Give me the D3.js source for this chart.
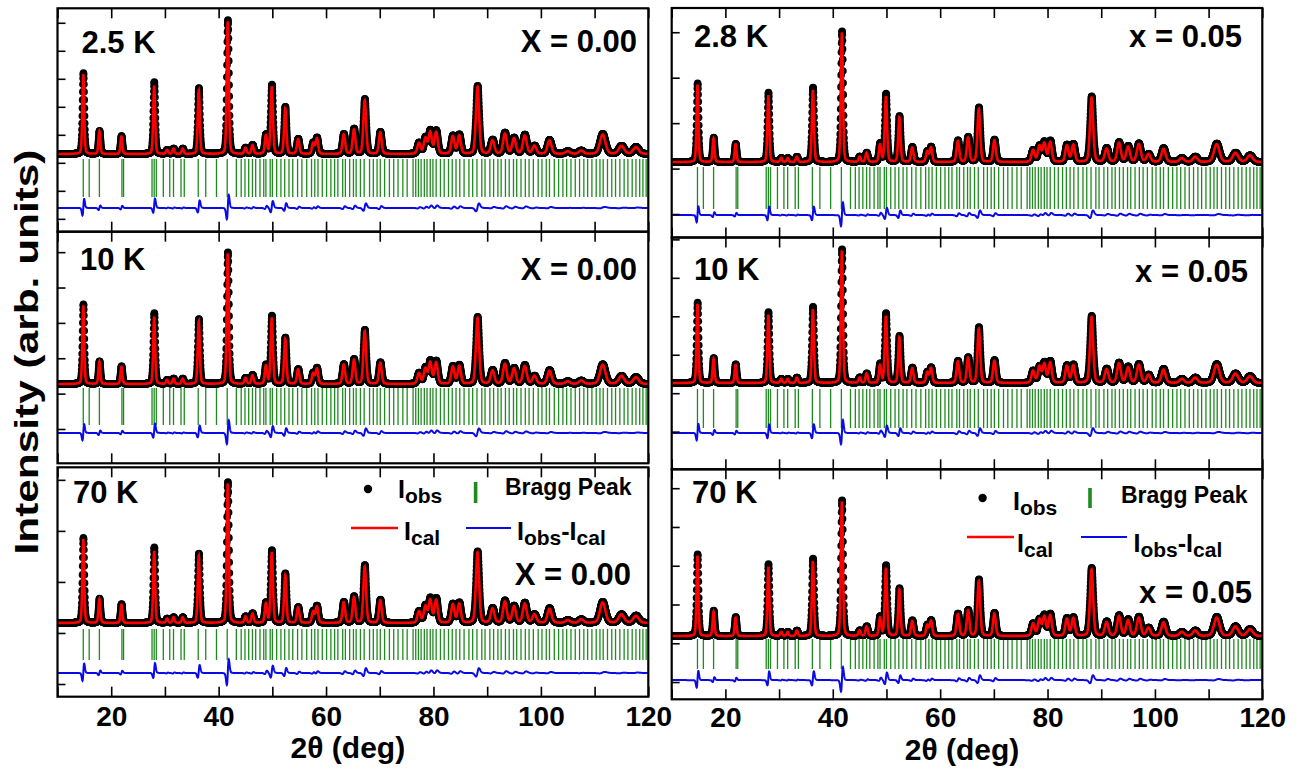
<!DOCTYPE html>
<html><head><meta charset="utf-8">
<script src="https://cdn.jsdelivr.net/npm/d3@7"></script>
<style>
body{margin:0;background:#fff}
svg{display:block}
text{font-family:"Liberation Sans",Arial,Helvetica,sans-serif;font-weight:bold;fill:#000}
</style>
</head><body>
<svg id="chart" width="1306" height="774"></svg>
<script>
// ---------------- DATA ----------------
const xTickValues = [10,20,30,40,50,60,70,80,90,100,110,120];
const xTickLabels = [20,40,60,80,100,120];

// reflection positions (2theta, deg) of the fitted peaks
const peakPos  = [14.8,17.8,21.9,28.0,30.4,31.6,33.3,36.3,41.7,45.0,46.3,48.8,49.9,52.4,54.8,57.6,58.3,63.3,65.2,67.2,70.1,77.3,78.5,79.4,80.5,83.6,84.8,88.2,91.0,93.3,95.0,97.0,98.8,101.6,105.0,107.5,111.5,115.0,117.7];
const peakFwhm = [0.40,0.42,0.42,0.42,0.45,0.45,0.45,0.45,0.45,0.50,0.50,0.50,0.50,0.50,0.55,0.55,0.55,0.60,0.60,0.60,0.60,0.70,0.70,0.70,0.70,0.70,0.70,0.70,0.80,0.80,0.80,0.85,0.85,0.90,1.00,1.00,1.20,1.20,1.20];

// relative intensities (strongest = 100), X = 0.00
const obsX000 = [60.4,17.2,13.4,53.7,3,4,4,49.3,100,4.5,6.7,14.2,51.5,35.1,11.2,8.2,12,14.9,18.7,41,16.4,8.2,12,17.2,17.2,13.4,14.2,50.7,10.4,15.7,11.9,14.2,6,10.4,2,2.5,14.9,6,5.2];
const calX000 = [59.5,17,13,51,3,4,4,47.5,99,4.5,6.5,13.5,50,34,11,8,11.5,14.5,18,40,16,8,11.5,16,16,13,13.5,50,10,15,11.5,13.5,6,10,2,2.5,14.5,6,5];
// relative intensities, x = 0.05
const obsX005 = [60,18.6,14,53,3,3,4,57,100,4,7,14,52,35,11.4,8,11.4,16.4,19,41.6,17,9,12,15,16,13,13.5,50,10.5,15,12,14,6,10.5,3,4,14,7,5];
const calX005 = [59,18,13.5,51,3,3,4,55,99,4,7,13,50,34,11,8,11,16,18.5,40.5,16.5,9,12,14,15,12.5,13,49,10,14.5,11.5,13.5,6,10,3,4,13.5,7,5];
const obsShift = [0.03, 0.03];   // small offset of observed peaks vs. calculated (deg)

// Bragg reflection positions (deg)
const braggPos = [14.8,15.9,17.8,22.0,22.3,27.6,28.0,28.4,29.7,30.9,31.6,33.0,33.6,36.2,37.6,39.6,41.6,43.3,44.2,44.9,45.6,46.3,46.9,47.7,48.4,48.8,49.6,50.0,50.8,51.6,52.3,53.1,53.8,54.7,55.5,56.4,57.3,57.9,58.5,59.3,60.1,60.9,61.6,62.2,63.1,63.6,64.4,65.1,65.6,66.4,67.1,68.1,68.8,69.5,70.1,70.9,71.8,72.6,73.4,74.3,75.1,76.2,76.7,77.2,77.7,78.3,78.8,79.4,79.9,80.5,81.3,82.0,82.8,83.5,84.2,84.9,85.7,86.6,87.3,88.1,89.0,89.6,90.5,91.2,92.0,92.6,93.4,94.1,94.9,95.5,96.3,97.1,97.8,98.6,99.5,100.2,101.0,101.6,102.5,103.3,104.1,104.8,105.6,106.4,107.2,108.0,108.7,109.5,110.3,111.0,111.6,112.4,113.2,113.9,114.7,115.5,116.2,117.0,117.7,118.4,119.0,119.6];

const tempLabels = ["2.5 K","10 K","70 K","2.8 K","10 K","70 K"];
const compLabels = ["X = 0.00","X = 0.00","X = 0.00","x = 0.05","x = 0.05","x = 0.05"];

// per-panel intensity ranges (data units) : domain, difference offset, Bragg tick span, y ticks
const yDomains   = [[-58.0,108.7],[-60.1,115.4],[-52.3,110.4],[-57.6,117.6],[-64.4,108.6],[-46.5,122.6]];
const diffOffset = [-40.3,-37.1,-35.5,-40.5,-37.3,-32.4];
const braggSpan  = [[-3.7,-32.1],[-3.0,-31.1],[-4.3,-26.2],[-3.8,-35.9],[-4.5,-33.6],[-2.2,-24.3]];
const yTickVals  = [
  [-48.4,-27.5,-6.6,14.3,35.2,56.1,77.0,97.9],
  [-34.1,-7.3,19.5,46.3,73.1,99.9],
  [-43.3,-7.1,29.1,65.3,101.5],
  [-39.7,-5.0,29.7,64.4,99.1],
  [-36.3,-7.6,21.1,49.8,78.5,107.2],
  [-33.8,-5.3,23.2,51.7,80.2,108.7]
];

// ---------------- LAYOUT ----------------
const cols = [{x0:57.5, x1:648.3}, {x0:671.7, x1:1262.3}];
const panelBoxes = [
  {col:0, top:8.3,   bottom:231.7},
  {col:0, top:231.7, bottom:463.3},
  {col:0, top:467.3, bottom:696.7},
  {col:1, top:8,     bottom:237.5},
  {col:1, top:237.5, bottom:469.3},
  {col:1, top:469.3, bottom:699.3}
];
const labelPos = [
  {t:[81.5,53], c:[637,52]},
  {t:[80,270],  c:[637,280]},
  {t:[73,503],  c:[631,585]},
  {t:[694,47],  c:[1242,47]},
  {t:[694,280], c:[1248,282]},
  {t:[692,503], c:[1252,603]}
];
const legendPos = [
  {dot:[368,489], iobs:[398,498], bar:[475.6,482,503], bragg:[505,495], cal:[351,398,528], ical:[404,540], dif:[466,511,528], idif:[517,540]},
  {dot:[982.6,498], iobs:[1013,510], bar:[1090,488,508], bragg:[1121,503], cal:[967,1014,537], ical:[1017,552], dif:[1081,1127,537], idif:[1133.5,552]}
];

const RED = "#ff0000", BLUE = "#0a0ae6", GREEN = "#1f8a1f";

// ---------------- MODEL ----------------
const step = 0.03;
const grid = d3.range(10, 120 + 1e-9, step);
function profile(t, heights, shift) {
  let s = 0;
  for (let i = 0; i < peakPos.length; i++) {
    const w = peakFwhm[i], d = t - peakPos[i] - shift;
    if (Math.abs(d) > 12 * w) continue;
    const q = d * d / (w * w);
    s += heights[i] * (0.75 * Math.exp(-4 * Math.LN2 * q) + 0.25 / (1 + 4 * q));
  }
  return s;
}
const colSeries = [[obsX000, calX000], [obsX005, calX005]].map(([ho, hc], ci) =>
  grid.map(t => ({t, obs: profile(t, ho, obsShift[ci]), cal: profile(t, hc, 0)})));

// ---------------- DRAW ----------------
const svg = d3.select("#chart");
const defs = svg.append("defs");

panelBoxes.forEach((pb, i) => {
  const col = cols[pb.col];
  const x = d3.scaleLinear().domain([10, 120]).range([col.x0, col.x1]);
  const y = d3.scaleLinear().domain(yDomains[i]).range([pb.bottom, pb.top]);
  const data = colSeries[pb.col];
  const g = svg.append("g");
  const cid = "clip" + i;
  defs.append("clipPath").attr("id", cid).append("rect")
    .attr("x", col.x0).attr("y", pb.top).attr("width", col.x1 - col.x0).attr("height", pb.bottom - pb.top);
  const pg = g.append("g").attr("clip-path", `url(#${cid})`);

  // Bragg ticks
  pg.append("g").selectAll("line").data(braggPos).join("line")
    .attr("x1", d => x(d)).attr("x2", d => x(d))
    .attr("y1", y(braggSpan[i][0])).attr("y2", y(braggSpan[i][1]))
    .attr("stroke", GREEN).attr("stroke-width", 1.3);

  // difference
  pg.append("path").datum(data)
    .attr("d", d3.line().x(d => x(d.t)).y(d => y(d.obs - d.cal + diffOffset[i])))
    .attr("fill", "none").attr("stroke", BLUE).attr("stroke-width", 2);

  // observed points
  pg.append("g").selectAll("circle").data(data).join("circle")
    .attr("cx", d => x(d.t)).attr("cy", d => y(d.obs)).attr("r", 3.8).attr("fill", "#000");

  // calculated
  pg.append("path").datum(data)
    .attr("d", d3.line().x(d => x(d.t)).y(d => y(d.cal)))
    .attr("fill", "none").attr("stroke", RED).attr("stroke-width", 2.6);

  // axes (inward ticks)
  const ax = g.append("g");
  ax.append("g").attr("transform", `translate(0,${pb.bottom})`)
    .call(d3.axisTop(x).tickValues(xTickValues).tickSize(10).tickFormat(""));
  ax.append("g").attr("transform", `translate(0,${pb.top})`)
    .call(d3.axisBottom(x).tickValues(xTickValues).tickSize(10).tickFormat(""));
  ax.append("g").attr("transform", `translate(${col.x0},0)`)
    .call(d3.axisRight(y).tickValues(yTickVals[i]).tickSize(8).tickFormat(""));
  ax.selectAll(".domain").remove();
  ax.selectAll(".tick line").attr("stroke", "#000").attr("stroke-width", 1.6);

  if (i === 2 || i === 5) {
    const lab = g.append("g").attr("transform", `translate(0,${pb.bottom})`)
      .call(d3.axisBottom(x).tickValues(xTickLabels).tickSize(0).tickPadding(i === 2 ? 9.5 : 8).tickFormat(d3.format("d")));
    lab.select(".domain").remove();
    lab.selectAll("text").attr("font-size", 28).attr("font-family", '"Liberation Sans",Arial,sans-serif')
      .attr("font-weight", "bold").attr("fill", "#000");
    g.append("text").attr("x", (col.x0 + col.x1) / 2 - 5).attr("y", i === 2 ? 758 : 760)
      .attr("text-anchor", "middle").attr("font-size", 30).text("2θ (deg)");
  }

  // frame
  g.append("rect").attr("x", col.x0).attr("y", pb.top)
    .attr("width", col.x1 - col.x0).attr("height", pb.bottom - pb.top)
    .attr("fill", "none").attr("stroke", "#000").attr("stroke-width", 2.2);

  // labels
  g.append("text").attr("x", labelPos[i].t[0]).attr("y", labelPos[i].t[1])
    .attr("font-size", 31).text(tempLabels[i]);
  g.append("text").attr("x", labelPos[i].c[0]).attr("y", labelPos[i].c[1])
    .attr("text-anchor", "end").attr("font-size", 31).text(compLabels[i]);
});

// legends
legendPos.forEach(L => {
  const g = svg.append("g");
  g.append("circle").attr("cx", L.dot[0]).attr("cy", L.dot[1]).attr("r", 4.2).attr("fill", "#000");
  const t1 = g.append("text").attr("x", L.iobs[0]).attr("y", L.iobs[1]).attr("font-size", 25);
  t1.append("tspan").text("I");
  t1.append("tspan").attr("font-size", 21).attr("dy", 5).text("obs");
  g.append("line").attr("x1", L.bar[0]).attr("x2", L.bar[0]).attr("y1", L.bar[1]).attr("y2", L.bar[2])
    .attr("stroke", GREEN).attr("stroke-width", 3.6);
  g.append("text").attr("x", L.bragg[0]).attr("y", L.bragg[1]).attr("font-size", 23).text("Bragg Peak");
  g.append("line").attr("x1", L.cal[0]).attr("x2", L.cal[1]).attr("y1", L.cal[2]).attr("y2", L.cal[2])
    .attr("stroke", RED).attr("stroke-width", 2.6);
  const t2 = g.append("text").attr("x", L.ical[0]).attr("y", L.ical[1]).attr("font-size", 25);
  t2.append("tspan").text("I");
  t2.append("tspan").attr("font-size", 21).attr("dy", 5).text("cal");
  g.append("line").attr("x1", L.dif[0]).attr("x2", L.dif[1]).attr("y1", L.dif[2]).attr("y2", L.dif[2])
    .attr("stroke", BLUE).attr("stroke-width", 2);
  const t3 = g.append("text").attr("x", L.idif[0]).attr("y", L.idif[1]).attr("font-size", 25);
  t3.append("tspan").text("I");
  t3.append("tspan").attr("font-size", 21).attr("dy", 5).text("obs");
  t3.append("tspan").attr("dy", -5).text("-I");
  t3.append("tspan").attr("font-size", 21).attr("dy", 5).text("cal");
});

// y axis title
svg.append("text").attr("transform", "translate(38,352) rotate(-90)")
  .attr("text-anchor", "middle").attr("font-size", 34)
  .attr("textLength", 405).attr("lengthAdjust", "spacingAndGlyphs")
  .text("Intensity (arb. units)");
</script>
</body></html>
